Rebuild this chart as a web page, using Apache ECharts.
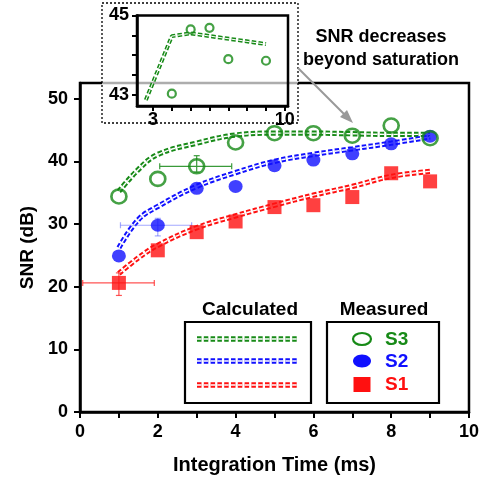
<!DOCTYPE html>
<html><head><meta charset="utf-8">
<script src="https://cdn.jsdelivr.net/npm/echarts@6/dist/echarts.min.js"></script>
<style>html,body{margin:0;padding:0;background:#fff}#c{width:482px;height:481px}</style>
</head><body><div id="c"></div>
<script>
// ---- data ----
const xVals = [1, 2, 3, 4, 5, 6, 7, 8, 9];
const s1Measured = [20.6, 25.8, 28.7, 30.4, 32.7, 33.0, 34.3, 38.1, 36.8];
const s2Measured = [24.9, 29.8, 35.7, 36.0, 39.3, 40.2, 41.2, 42.8, 44.0];
const s3Measured = [34.4, 37.2, 39.2, 43.0, 44.5, 44.5, 44.1, 45.7, 43.7];
const calcX = [1, 1.5, 2, 3, 4, 5, 6, 7, 8, 9];
const s1Calc = [22.1, 24.6, 26.6, 29.4, 31.3, 33.0, 34.6, 36.0, 37.6, 38.4];
const s2Calc = [26.2, 30.7, 32.8, 36.0, 38.2, 40.0, 41.1, 42.0, 42.9, 43.9];
const s3Calc = [35.2, 38.7, 41.1, 42.9, 44.2, 44.5, 44.5, 44.4, 44.3, 44.3];
// error bars: [x, y, xLow, xHigh, yLow, yHigh]
const s1Err = [1, 20.6, 0.07, 1.91, 18.6, 22.2];
const s2Err = [2, 29.8, 1.04, 2.87, 28.1, 30.9];
const s3Err = [3, 39.2, 2.05, 3.90, 38.3, 40.9];
// inset
const insetX = [4, 5, 6, 7, 9];
const insetMeasured = [43.03, 44.65, 44.69, 43.9, 43.86];
const insetCalcX = [2.62, 4, 5, 9];
const insetCalc = [42.87, 44.48, 44.55, 44.28];
const xTicks = [0, 1, 2, 3, 4, 5, 6, 7, 8, 9, 10];
const xTickLabels = [0, 2, 4, 6, 8, 10];
const yTicks = [0, 10, 20, 30, 40, 50];
const insetXTicks = [3, 4, 5, 6, 7, 8, 9, 10];
const insetXLabels = [3, 10];
const insetYTicks = [43, 43.5, 44, 44.5, 45];
const insetYLabels = [43, 45];

const GREEN = '#178a17', BLUE = '#1010ff', RED = '#ff1010';
const FONT = 'Liberation Sans, Arial, sans-serif';

function zip(xs, ys) { return xs.map((x, i) => [x, ys[i]]); }

const DASH = [4.5, 2.3];
function doubleDash(data, color, xi, yi, w, core, smooth, z) {
  return [
    { type: 'line', data: data, xAxisIndex: xi, yAxisIndex: yi, smooth: smooth, showSymbol: false, symbol: 'none',
      lineStyle: { color: color, width: w, type: DASH }, z: z, silent: true },
    { type: 'line', data: data, xAxisIndex: xi, yAxisIndex: yi, smooth: smooth, showSymbol: false, symbol: 'none',
      lineStyle: { color: '#fff', width: core, type: DASH }, z: z + 0.1, silent: true }
  ];
}

function errSeries(err, color) {
  return {
    type: 'custom', z: 3, silent: true,
    data: [err],
    encode: { x: 0, y: 1 },
    renderItem: function (params, api) {
      const c = api.coord([api.value(0), api.value(1)]);
      const xl = api.coord([api.value(2), api.value(1)]);
      const xh = api.coord([api.value(3), api.value(1)]);
      const yl = api.coord([api.value(0), api.value(4)]);
      const yh = api.coord([api.value(0), api.value(5)]);
      const st = { stroke: color, lineWidth: 1.2 };
      const cap = 3;
      return { type: 'group', children: [
        { type: 'line', shape: { x1: xl[0], y1: c[1], x2: xh[0], y2: c[1] }, style: st },
        { type: 'line', shape: { x1: xl[0], y1: c[1] - cap, x2: xl[0], y2: c[1] + cap }, style: st },
        { type: 'line', shape: { x1: xh[0], y1: c[1] - cap, x2: xh[0], y2: c[1] + cap }, style: st },
        { type: 'line', shape: { x1: c[0], y1: yl[1], x2: c[0], y2: yh[1] }, style: st },
        { type: 'line', shape: { x1: c[0] - cap, y1: yl[1], x2: c[0] + cap, y2: yl[1] }, style: st },
        { type: 'line', shape: { x1: c[0] - cap, y1: yh[1], x2: c[0] + cap, y2: yh[1] }, style: st }
      ]};
    }
  };
}

const labelStyle = { color: '#000', fontFamily: FONT, fontWeight: 'bold', fontSize: 18 };

const series = [].concat(
  doubleDash(zip(calcX, s3Calc), GREEN, 0, 0, 5.3, 1.4, 0.4, 2),
  doubleDash(zip(calcX, s2Calc), BLUE, 0, 0, 5.3, 1.4, 0.4, 2),
  doubleDash(zip(calcX, s1Calc), RED, 0, 0, 5.3, 1.4, 0.4, 2),
  [
    errSeries(s1Err, 'rgba(255,40,40,0.8)'),
    errSeries(s2Err, 'rgba(100,110,255,0.6)'),
    errSeries(s3Err, '#3a9a3a'),
    { type: 'scatter', data: zip(xVals, s1Measured), symbol: 'rect', symbolSize: 14,
      itemStyle: { color: RED }, z: 5, silent: true },
    { type: 'scatter', data: zip(xVals, s2Measured), symbol: 'circle', symbolSize: [14, 13],
      itemStyle: { color: BLUE }, z: 5, silent: true },
    { type: 'scatter', data: zip(xVals, s3Measured), symbol: 'circle', symbolSize: [15, 14],
      itemStyle: { color: 'rgba(0,0,0,0)', borderColor: GREEN, borderWidth: 2.6 }, z: 6, silent: true }
  ],
  doubleDash(zip(insetCalcX, insetCalc), GREEN, 1, 1, 4, 1, false, 12),
  [
    { type: 'scatter', xAxisIndex: 1, yAxisIndex: 1, data: zip(insetX, insetMeasured), symbol: 'circle', symbolSize: 8,
      itemStyle: { color: 'rgba(0,0,0,0)', borderColor: GREEN, borderWidth: 2.2 }, z: 13, silent: true }
  ]
);

function legLine(y, color) {
  return [
    { type: 'line', shape: { x1: 197, y1: y, x2: 299, y2: y }, style: { stroke: color, lineWidth: 5.3, lineDash: DASH }, z: 20 },
    { type: 'line', shape: { x1: 197, y1: y, x2: 299, y2: y }, style: { stroke: '#fff', lineWidth: 1.4, lineDash: DASH }, z: 21 }
  ];
}
function txt(x, y, s, color, size, align) {
  return { type: 'text', x: x, y: y, z: 20,
    style: { text: s, fill: color, font: 'bold ' + size + 'px ' + FONT, textAlign: align || 'center', textVerticalAlign: 'middle' } };
}

const graphic = [].concat(
  [
    // inset frame
    { type: 'rect', shape: { x: 102, y: 3, width: 196, height: 120 }, z: 8,
      style: { fill: 'rgba(255,255,255,0.68)', stroke: '#000', lineWidth: 1.3, lineDash: [2, 2] } },
    // annotation
    txt(381, 37, 'SNR decreases', '#000', 18),
    txt(381, 60, 'beyond saturation', '#000', 18),
    { type: 'line', shape: { x1: 298, y1: 68, x2: 346, y2: 116 }, style: { stroke: '#999', lineWidth: 2 }, z: 20 },
    { type: 'polygon', shape: { points: [[353, 123], [340, 117], [347, 110]] }, style: { fill: '#999' }, z: 20 },
    // legends
    txt(250, 310, 'Calculated', '#000', 19),
    txt(384, 310, 'Measured', '#000', 19),
    { type: 'rect', shape: { x: 185, y: 322, width: 126, height: 81 }, style: { fill: '#fff', stroke: '#000', lineWidth: 2.2 }, z: 19 },
    { type: 'rect', shape: { x: 327, y: 322, width: 112, height: 81 }, style: { fill: '#fff', stroke: '#000', lineWidth: 2.2 }, z: 19 },
    { type: 'ellipse', shape: { cx: 362, cy: 339, rx: 9, ry: 6 }, style: { fill: 'none', stroke: GREEN, lineWidth: 2.2 }, z: 20 },
    { type: 'ellipse', shape: { cx: 362, cy: 361, rx: 9, ry: 6.5 }, style: { fill: BLUE }, z: 20 },
    { type: 'rect', shape: { x: 353.5, y: 377, width: 17, height: 15 }, style: { fill: RED }, z: 20 },
    txt(385, 340, 'S3', GREEN, 19, 'left'),
    txt(385, 362, 'S2', BLUE, 19, 'left'),
    txt(385, 385, 'S1', RED, 19, 'left')
  ],
  legLine(339, GREEN), legLine(361, BLUE), legLine(385, RED)
);

const option = {
  animation: false,
  backgroundColor: '#fff',
  grid: [
    { left: 80, right: 9, top: 83, bottom: 69, show: true, borderColor: '#000', borderWidth: 2.5, backgroundColor: 'transparent', z: 0 },
    { left: 137, top: 15.5, width: 151, height: 90.5, show: true, borderColor: '#000', borderWidth: 2.5, backgroundColor: 'transparent', z: 10 }
  ],
  xAxis: [
    { type: 'value', gridIndex: 0, min: 0, max: 10,
      axisLine: { show: true, onZero: false, lineStyle: { color: '#000', width: 2.5 } },
      axisTick: { show: true, customValues: xTicks, length: 6, lineStyle: { color: '#000', width: 2 } },
      axisLabel: Object.assign({ customValues: xTickLabels, margin: 11 }, labelStyle),
      splitLine: { show: false },
      name: 'Integration Time (ms)', nameLocation: 'middle', nameGap: 43,
      nameTextStyle: { color: '#000', fontFamily: FONT, fontWeight: 'bold', fontSize: 20 } },
    { type: 'value', gridIndex: 1, min: 2.15, max: 10.17, z: 11,
      axisLine: { show: true, onZero: false, lineStyle: { color: '#000', width: 2.5 } },
      axisTick: { show: true, customValues: insetXTicks, length: 5, lineStyle: { color: '#000', width: 2 } },
      axisLabel: Object.assign({ customValues: insetXLabels, margin: 5 }, labelStyle),
      splitLine: { show: false } }
  ],
  yAxis: [
    { type: 'value', gridIndex: 0, min: 0, max: 52.5,
      axisLine: { show: true, onZero: false, lineStyle: { color: '#000', width: 2.5 } },
      axisTick: { show: true, customValues: yTicks, length: 6, lineStyle: { color: '#000', width: 2 } },
      axisLabel: Object.assign({ customValues: yTicks, margin: 12 }, labelStyle),
      splitLine: { show: false },
      name: 'SNR (dB)', nameLocation: 'middle', nameGap: 38, nameRotate: 90,
      nameTextStyle: { color: '#000', fontFamily: FONT, fontWeight: 'bold', fontSize: 19 } },
    { type: 'value', gridIndex: 1, min: 42.72, max: 45, z: 11,
      axisLine: { show: true, onZero: false, lineStyle: { color: '#000', width: 2.5 } },
      axisTick: { show: true, customValues: insetYTicks, length: 5, lineStyle: { color: '#000', width: 2 } },
      axisLabel: Object.assign({ customValues: insetYLabels, margin: 8 }, labelStyle),
      splitLine: { show: false } }
  ],
  series: series,
  graphic: graphic
};

const chart = echarts.init(document.getElementById('c'), null, { renderer: 'canvas' });
chart.setOption(option);
</script></body></html>
